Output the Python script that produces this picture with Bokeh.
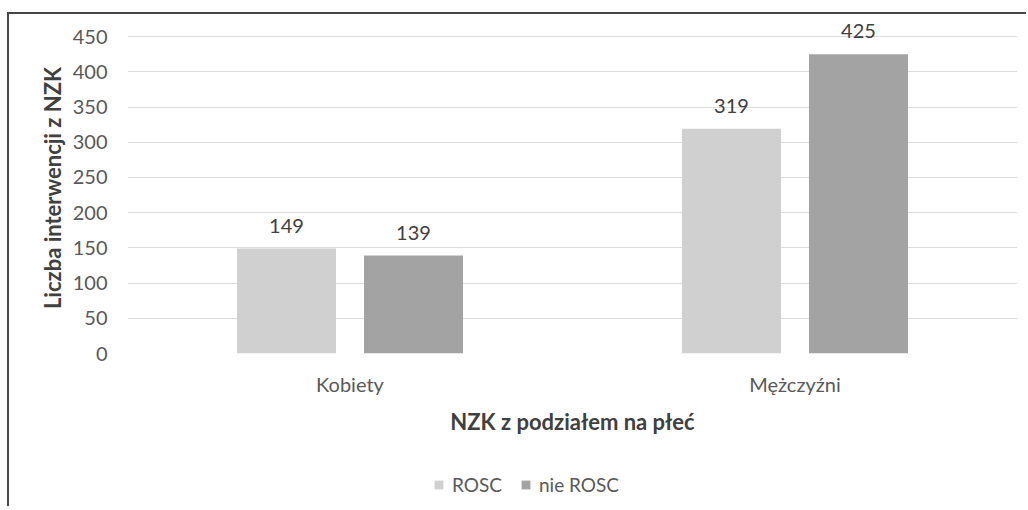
from bokeh.plotting import figure
from bokeh.layouts import column
from bokeh.models import ColumnDataSource, FactorRange, FixedTicker, Legend, LegendItem, Range1d
from bokeh.transform import dodge
from bokeh.core.properties import value
from bokeh.embed import file_html
from bokeh.resources import INLINE

categories = ["Kobiety", "Mężczyźni"]
rosc = [149, 319]
nie_rosc = [139, 425]
series_names = ["ROSC", "nie ROSC"]
series_colors = ["#d0d0d0", "#a3a3a3"]
y_ticks = [0, 50, 100, 150, 200, 250, 300, 350, 400, 450]

FONT = "Lato"
src = ColumnDataSource(dict(cat=categories, rosc=rosc, nie=nie_rosc,
                            rosc_t=[str(v) for v in rosc], nie_t=[str(v) for v in nie_rosc]))

p = figure(x_range=FactorRange(factors=categories, range_padding=0),
           y_range=Range1d(0, 470),
           frame_width=890, frame_height=331,
           min_border_left=118, min_border_right=9, min_border_top=8, min_border_bottom=95,
           output_backend="svg", toolbar_location=None)
p.outline_line_color = None
p.background_fill_color = "white"

OFF = 0.1427
W = 0.2225
r1 = p.vbar(x=dodge("cat", -OFF, range=p.x_range), top="rosc", width=W, source=src,
            fill_color=series_colors[0], line_color=None)
r2 = p.vbar(x=dodge("cat", OFF, range=p.x_range), top="nie", width=W, source=src,
            fill_color=series_colors[1], line_color=None)

p.text(x=dodge("cat", -OFF, range=p.x_range), y="rosc", text="rosc_t", source=src,
       text_align="center", text_baseline="bottom", y_offset=-16,
       text_font=value(FONT), text_font_size="20px", text_color="#404040")
p.text(x=dodge("cat", OFF, range=p.x_range), y="nie", text="nie_t", source=src,
       text_align="center", text_baseline="bottom", y_offset=-16,
       text_font=value(FONT), text_font_size="20px", text_color="#404040")

p.xgrid.grid_line_color = None
p.ygrid.grid_line_color = "#dcdcdc"
p.ygrid.grid_line_width = 1
p.yaxis.ticker = FixedTicker(ticks=y_ticks)

for ax in (p.xaxis[0], p.yaxis[0]):
    ax.axis_line_color = None
    ax.major_tick_line_color = None
    ax.minor_tick_line_color = None
    ax.major_label_text_font = FONT
    ax.major_label_text_font_size = "20px"
    ax.major_label_text_color = "#595959"
    ax.axis_label_text_font = FONT
    ax.axis_label_text_font_size = "22px"
    ax.axis_label_text_font_style = "bold"
    ax.axis_label_text_color = "#404040"

p.yaxis.axis_label = "Liczba interwencji z NZK"
p.yaxis.major_label_standoff = 14
p.yaxis.axis_label_standoff = 4
p.xaxis.axis_label = "NZK z podziałem na płeć"
p.xaxis.major_label_standoff = 12
p.xaxis.axis_label_standoff = 9

# legend strip below the chart (legend swatches use the same series colours)
p2 = figure(width=1017, height=58, x_range=Range1d(0, 1), y_range=Range1d(0, 1),
            min_border=0, output_backend="svg", toolbar_location=None)
p2.axis.visible = False
p2.grid.grid_line_color = None
p2.outline_line_color = None
lr1 = p2.vbar(x=[5], top=[5], bottom=[4], width=0.1, fill_color=series_colors[0], line_color=None)
lr2 = p2.vbar(x=[5], top=[5], bottom=[4], width=0.1, fill_color=series_colors[1], line_color=None)

legend = Legend(items=[LegendItem(label=series_names[0], renderers=[lr1]),
                       LegendItem(label=series_names[1], renderers=[lr2])],
                orientation="horizontal", location=(306, 10),
                glyph_width=11, glyph_height=11, label_standoff=8, spacing=18,
                padding=0, margin=0, border_line_color=None, background_fill_alpha=0,
                label_text_font=FONT, label_text_font_size="19px", label_text_color="#595959",
                label_height=18)
p2.add_layout(legend, "center")

layout = column(p, p2, spacing=0,
                styles={"margin-top": "12px", "margin-left": "7px",
                        "border-top": "2px solid #474747",
                        "border-left": "2px solid #474747"})

open("out.html", "w").write(file_html(layout, INLINE))
